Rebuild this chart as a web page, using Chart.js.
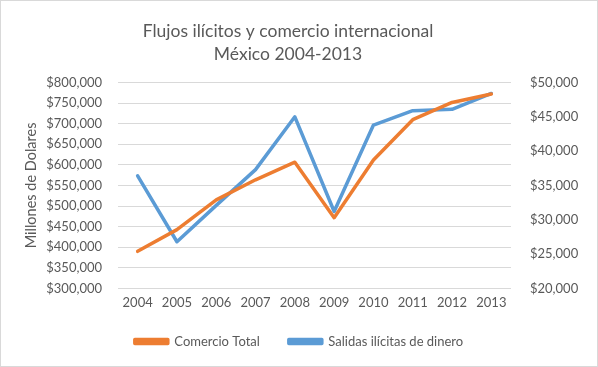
<!DOCTYPE html>
<html>
<head>
<meta charset="utf-8">
<script src="https://cdn.jsdelivr.net/npm/chart.js@4/dist/chart.umd.min.js"></script>
<style>
html,body{margin:0;padding:0;background:#fff;}
#wrap{position:relative;width:596px;height:365px;border:1px solid #d9d9d9;}
canvas{display:block;}
</style>
</head>
<body>
<div id="wrap"><canvas id="c" width="596" height="365"></canvas></div>
<script>
const years = ['2004','2005','2006','2007','2008','2009','2010','2011','2012','2013'];
const comercioTotal = [390000, 442700, 515000, 563700, 606500, 471800, 612000, 709700, 751600, 772000];
const salidasIlicitas = [36400, 26800, 32100, 37300, 45000, 31200, 43800, 45900, 46100, 48400];
const leftAxis = {min: 300000, max: 800000, step: 50000};
const rightAxis = {min: 20000, max: 50000, step: 5000};
const titleLines = ['Flujos ilícitos y comercio internacional', 'México 2004-2013'];

const FONT = 'Lato, "Open Sans", sans-serif';
const GREY = '#595959';
const money = v => '$' + Number(v).toLocaleString('en-US');

const LEGEND_PAD = 29;
const tweak = {
  id: 'tweak',
  beforeLayout(chart) {
    const lg = chart.legend;
    if (lg && !lg._patched) {
      const f = Object.getPrototypeOf(lg).fit;
      lg.fit = function () { f.call(this); if (this.height > 12) this.height -= 12; };
      lg._patched = true;
    }
  },
  afterLayout(chart) {
    const t = chart.titleBlock;
    if (t) { t.left -= 11; t.right -= 11; }
    const lg = chart.legend;
    if (lg) { lg.top -= 12; }
  }
};

new Chart(document.getElementById('c'), {
  type: 'line',
  data: {
    labels: years,
    datasets: [
      {label: 'Comercio Total', data: comercioTotal, yAxisID: 'y',
       borderColor: '#ed7d31', backgroundColor: '#ed7d31', borderWidth: 3.5,
       pointRadius: 0, tension: 0, borderCapStyle: 'round', borderJoinStyle: 'round'},
      {label: 'Salidas ilícitas de dinero', data: salidasIlicitas, yAxisID: 'y1',
       borderColor: '#5b9bd5', backgroundColor: '#5b9bd5', borderWidth: 3.5,
       pointRadius: 0, tension: 0, borderCapStyle: 'round', borderJoinStyle: 'round'}
    ]
  },
  plugins: [tweak],
  options: {
    responsive: false,
    animation: false,
    layout: {padding: {top: 19, bottom: 8, left: 0, right: 0}},
    plugins: {
      title: {display: true, text: titleLines, color: GREY,
        font: {family: FONT, size: 17.5, weight: 'normal', lineHeight: 1.3},
        padding: {top: 0, bottom: 17}},
      legend: {position: 'bottom',
        labels: {color: GREY, font: {family: FONT, size: 13}, boxWidth: 33, boxHeight: 4, padding: LEGEND_PAD}},
      tooltip: {enabled: false}
    },
    scales: {
      x: {
        offset: true,
        grid: {display: false, drawTicks: false, offset: true},
        border: {display: false},
        ticks: {color: GREY, font: {family: FONT, size: 13}, padding: 7}
      },
      y: {
        position: 'left',
        min: leftAxis.min, max: leftAxis.max,
        ticks: {stepSize: leftAxis.step, color: GREY, font: {family: FONT, size: 13}, padding: 16, callback: money},
        grid: {color: '#d9d9d9', drawTicks: false},
        border: {display: false},
        title: {display: true, text: 'Millones de Dolares', color: GREY, font: {family: FONT, size: 14.5}, padding: {top: 22, bottom: 0}},
        afterFit: s => { s.width = 117; }
      },
      y1: {
        position: 'right',
        min: rightAxis.min, max: rightAxis.max,
        ticks: {stepSize: rightAxis.step, color: GREY, font: {family: FONT, size: 13}, padding: 19, callback: money},
        grid: {display: false, drawTicks: false},
        border: {display: false},
        afterFit: s => { s.width = 86; }
      }
    }
  }
});
</script>
</body>
</html>
